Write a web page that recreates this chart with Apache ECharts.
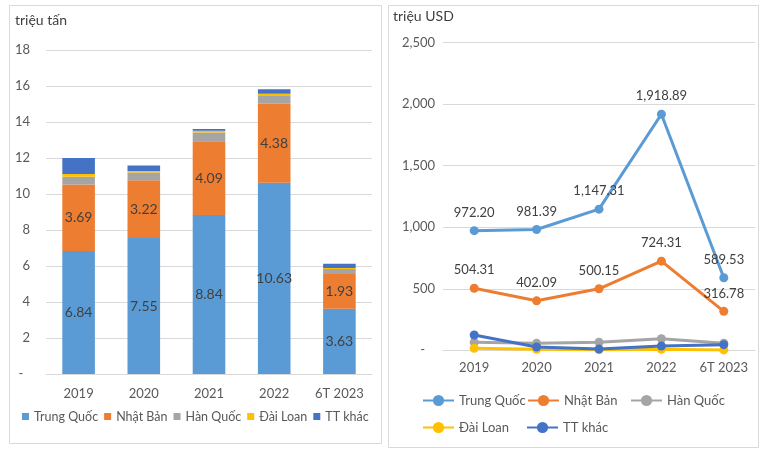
<!DOCTYPE html>
<html>
<head>
<meta charset="utf-8">
<script src="https://cdn.jsdelivr.net/npm/echarts@6/dist/echarts.min.js"></script>
<style>html,body{margin:0;padding:0;background:#fff;}#c{width:765px;height:451px;}</style>
</head>
<body>
<div id="c"></div>
<script>
const categories = ['2019', '2020', '2021', '2022', '6T 2023'];
const seriesNames = ['Trung Quốc', 'Nhật Bản', 'Hàn Quốc', 'Đài Loan', 'TT khác'];
// Volume (triệu tấn)
const volTQ = [6.84, 7.55, 8.84, 10.63, 3.63];
const volNB = [3.69, 3.22, 4.09, 4.38, 1.93];
const volHQ = [0.43, 0.43, 0.48, 0.47, 0.27];
const volDL = [0.15, 0.08, 0.11, 0.09, 0.06];
const volTT = [0.89, 0.31, 0.09, 0.25, 0.24];
// Value (triệu USD)
const valTQ = [972.20, 981.39, 1147.31, 1918.89, 589.53];
const valNB = [504.31, 402.09, 500.15, 724.31, 316.78];
const valHQ = [65, 57, 65, 94, 57];
const valDL = [16, 8, 5, 8, 3];
const valTT = [124, 27, 10, 35, 46];

const colors = ['#5B9BD5', '#ED7D31', '#A5A5A5', '#FFC000', '#4472C4'];
const FONT = 'Lato, "Open Sans", sans-serif';
const labelColor = '#404040';
const axisColor = '#595959';
const gridColor = '#D9D9D9';

const volData = [volTQ, volNB, volHQ, volDL, volTT];
const valData = [valTQ, valNB, valHQ, valDL, valTT];

const fmt2 = v => v.toLocaleString('en-US', {minimumFractionDigits: 2, maximumFractionDigits: 2});

const barSeries = seriesNames.map((n, i) => ({
  name: n, type: 'bar', stack: 'vol', xAxisIndex: 0, yAxisIndex: 0,
  barWidth: '50%', data: volData[i],
  itemStyle: {color: colors[i]},
  label: i < 2 ? {show: true, position: 'inside', color: labelColor, fontSize: 14, fontFamily: FONT,
    formatter: p => p.value.toFixed(2)} : {show: false}
}));

const lineSeries = seriesNames.map((n, i) => ({
  name: 'L_' + n, type: 'line', xAxisIndex: 1, yAxisIndex: 1,
  data: valData[i], symbol: 'circle', symbolSize: 9,
  lineStyle: {color: colors[i], width: 3}, itemStyle: {color: colors[i]},
  label: i < 2 ? {show: true, position: 'top', distance: 7, color: labelColor, fontSize: 13, fontFamily: FONT,
    formatter: p => fmt2(p.value)} : {show: false},
  z: 2 + i
}));

const rightLegendPos = [[422, 394], [527, 394], [630, 394], [422, 421], [526, 421]];

const legends = [{
  data: seriesNames, left: 22, top: 410, itemWidth: 7, itemHeight: 7, icon: 'rect', itemGap: 6,
  padding: 0, selectedMode: false,
  textStyle: {color: axisColor, fontSize: 12.5, fontFamily: FONT}
}];
seriesNames.forEach((n, i) => {
  legends.push({
    data: ['L_' + n], left: rightLegendPos[i][0], top: rightLegendPos[i][1], itemWidth: 31, itemHeight: 14,
    padding: 0, selectedMode: false, itemGap: 0,
    formatter: nm => nm.replace(/^L_/, ''),
    textStyle: {color: axisColor, fontSize: 13, fontFamily: FONT}
  });
});

const chart = echarts.init(document.getElementById('c'), null, {renderer: 'canvas'});
chart.setOption({
  animation: false,
  textStyle: {fontFamily: FONT},
  title: [
    {text: 'triệu tấn', left: 15, top: 13, padding: 0, textStyle: {fontSize: 14, fontWeight: 'normal', color: labelColor, fontFamily: FONT}},
    {text: 'triệu USD', left: 393, top: 9, padding: 0, textStyle: {fontSize: 14, fontWeight: 'normal', color: labelColor, fontFamily: FONT}}
  ],
  graphic: [
    {type: 'rect', shape: {x: 9.5, y: 5.5, width: 372, height: 438}, style: {fill: 'none', stroke: gridColor, lineWidth: 1}, z: -1},
    {type: 'rect', shape: {x: 388.5, y: 5.5, width: 370, height: 442}, style: {fill: 'none', stroke: gridColor, lineWidth: 1}, z: -1}
  ],
  legend: legends,
  grid: [
    {left: 46, top: 50, width: 326, height: 324},
    {left: 443, top: 42.7, width: 312, height: 307.6}
  ],
  xAxis: [
    {type: 'category', gridIndex: 0, data: categories,
      axisLine: {lineStyle: {color: gridColor}}, axisTick: {show: false},
      axisLabel: {color: axisColor, fontSize: 13, margin: 13, interval: 0, fontFamily: FONT}},
    {type: 'category', gridIndex: 1, data: categories,
      axisLine: {lineStyle: {color: gridColor}}, axisTick: {show: false},
      axisLabel: {color: axisColor, fontSize: 13, margin: 11, interval: 0, fontFamily: FONT}}
  ],
  yAxis: [
    {type: 'value', gridIndex: 0, min: 0, max: 18, interval: 2,
      axisLine: {show: false}, axisTick: {show: false},
      splitLine: {lineStyle: {color: gridColor}},
      axisLabel: {color: axisColor, fontSize: 13, margin: 16, fontFamily: FONT,
        formatter: v => v === 0 ? '-  ' : String(v)}},
    {type: 'value', gridIndex: 1, min: 0, max: 2500, interval: 500,
      axisLine: {show: false}, axisTick: {show: false},
      splitLine: {lineStyle: {color: gridColor}},
      axisLabel: {color: axisColor, fontSize: 13, margin: 8, fontFamily: FONT,
        formatter: v => v === 0 ? '-   ' : v.toLocaleString('en-US')}}
  ],
  series: barSeries.concat(lineSeries)
});
</script>
</body>
</html>
